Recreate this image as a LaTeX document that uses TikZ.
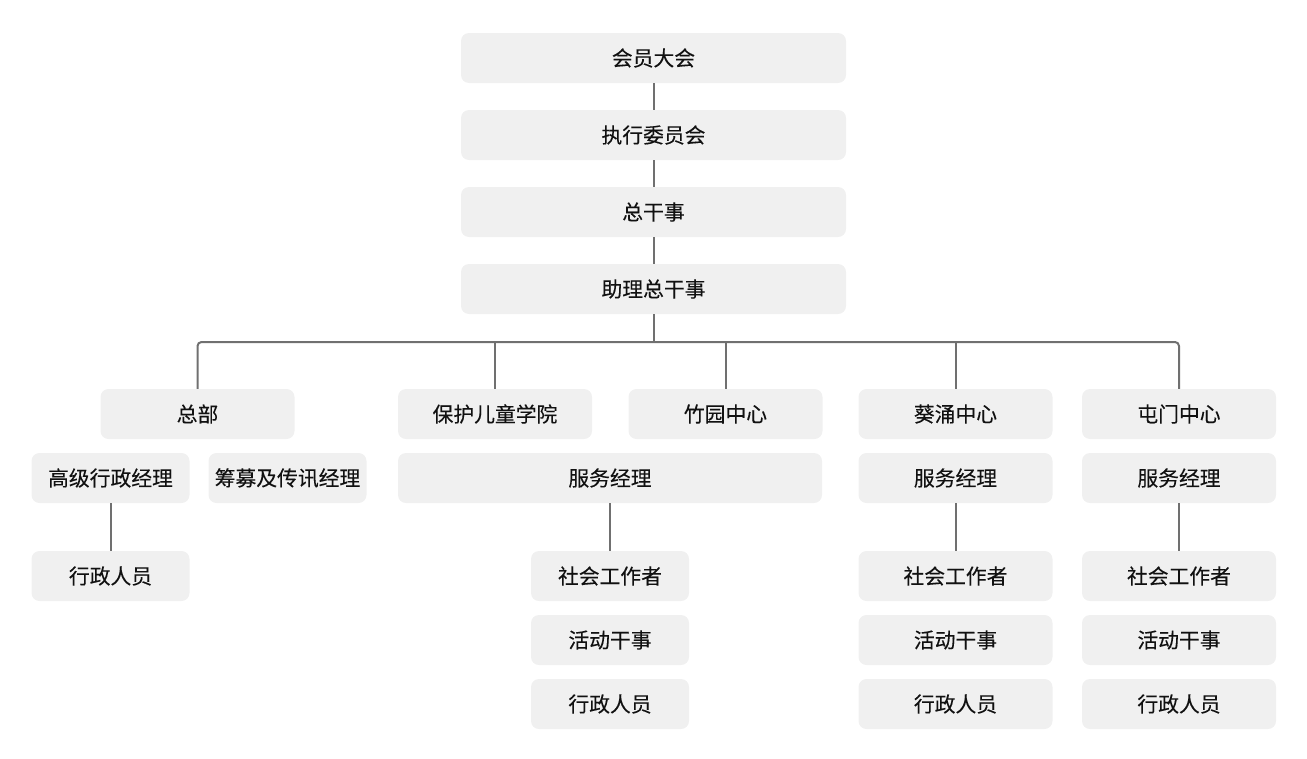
\documentclass[tikz,border=0pt]{standalone}
\usepackage{fontspec}
\newfontfamily\cjk[FakeBold=0.15]{Noto Sans CJK SC}
\definecolor{boxfill}{HTML}{F0F0F0}
\definecolor{linecol}{HTML}{707070}
\definecolor{txtcol}{HTML}{111111}
\begin{document}
\begin{tikzpicture}[x=1pt,y=-1pt,
  box/.style={fill=boxfill,draw=none,rounded corners=8pt,minimum height=50pt,inner sep=0pt,
    font=\cjk\fontsize{20.8pt}{24pt}\selectfont,text=txtcol},
  wide/.style={box,minimum width=385pt},
  mid/.style={box,minimum width=194pt},
  small/.style={box,minimum width=158pt},
  conn/.style={draw=linecol,line width=2pt}]
\useasboundingbox (0,0) rectangle (1307,758);
% top chain
\node[wide] (hy) at (653.5,58) {会员大会};
\node[wide] (zx) at (653.5,135) {执行委员会};
\node[wide] (zg) at (653.5,212) {总干事};
\node[wide] (zl) at (653.5,289) {助理总干事};
% row 2
\node[mid] (zb) at (197.5,414) {总部};
\node[mid] (bh) at (495,414) {保护儿童学院};
\node[mid] (zy) at (725.5,414) {竹园中心};
\node[mid] (ky) at (955.5,414) {葵涌中心};
\node[mid] (tm) at (1179,414) {屯门中心};
% row 3
\node[small] (gj) at (110.5,478) {高级行政经理};
\node[small] (cm) at (287.5,478) {筹募及传讯经理};
\node[box,minimum width=424pt] (fw1) at (610,478) {服务经理};
\node[mid] (fw2) at (955.5,478) {服务经理};
\node[mid] (fw3) at (1179,478) {服务经理};
% row 4
\node[small] (xz0) at (110.5,576) {行政人员};
\node[small] (sg1) at (610,576) {社会工作者};
\node[mid] (sg2) at (955.5,576) {社会工作者};
\node[mid] (sg3) at (1179,576) {社会工作者};
% row 5
\node[small] (hd1) at (610,640) {活动干事};
\node[mid] (hd2) at (955.5,640) {活动干事};
\node[mid] (hd3) at (1179,640) {活动干事};
% row 6
\node[small] (xz1) at (610,704) {行政人员};
\node[mid] (xz2) at (955.5,704) {行政人员};
\node[mid] (xz3) at (1179,704) {行政人员};
% connectors
\coordinate (bus) at (653,342);
\draw[conn] (hy) -- (zx);
\draw[conn] (zx) -- (zg);
\draw[conn] (zg) -- (zl);
\draw[conn] (zl.south) -- (zl.south |- bus);
\draw[conn,rounded corners=4pt] (zb.north) -- (zb.north |- bus) -- (tm.north |- bus) -- (tm.north);
\draw[conn] (bh.north |- bus) -- (bh.north);
\draw[conn] (zy.north |- bus) -- (zy.north);
\draw[conn] (ky.north |- bus) -- (ky.north);
\draw[conn] (gj) -- (xz0);
\draw[conn] (fw1.south -| sg1) -- (sg1.north);
\draw[conn] (fw2) -- (sg2);
\draw[conn] (fw3) -- (sg3);
\end{tikzpicture}
\end{document}
